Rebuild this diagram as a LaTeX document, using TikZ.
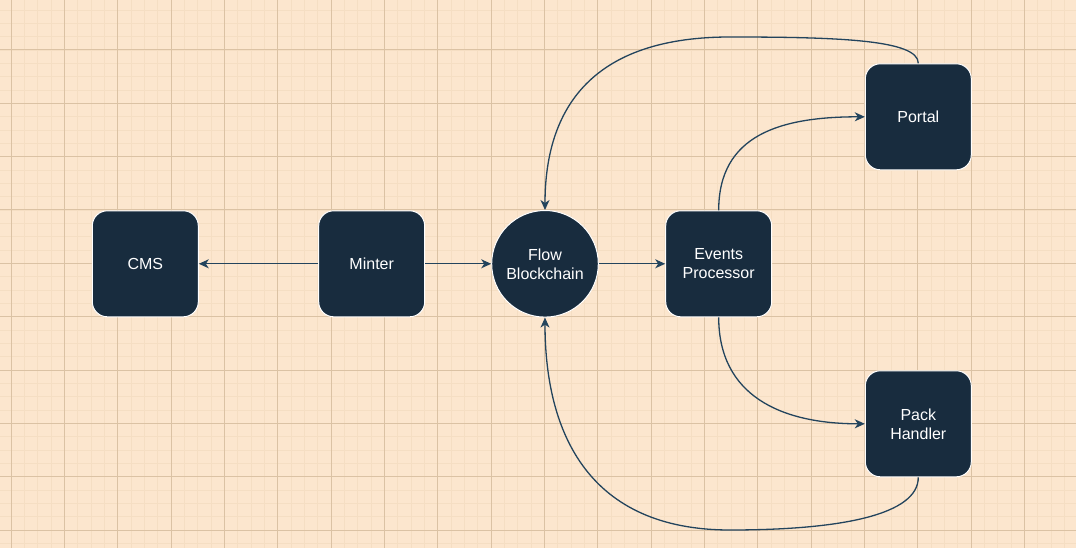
\documentclass[tikz,border=0pt]{standalone}
\usepackage{fontspec}
\setmainfont{Liberation Sans}
\usetikzlibrary{arrows.meta}
\definecolor{bgc}{HTML}{FCE6CE}
\definecolor{minorc}{HTML}{F5DEC3}
\definecolor{majorc}{HTML}{DBC2A4}
\definecolor{nodec}{HTML}{182C3E}
\definecolor{edgec}{HTML}{23445D}
\tikzset{
  boxnode/.style={draw=white, line width=1pt, fill=nodec, rounded corners=15pt,
    minimum width=106pt, minimum height=106pt, text=white, font=\fontsize{16}{19}\selectfont,
    align=center, inner sep=0pt},
  circnode/.style={draw=white, line width=1pt, fill=nodec, circle,
    minimum size=106.6pt, text=white, font=\fontsize{16}{19}\selectfont,
    align=center, inner sep=0pt},
  conn/.style={draw=edgec, line width=1.3pt, -{Stealth[length=10pt,width=9pt,inset=3pt]}},
  minorline/.style={draw=minorc, line width=0.9pt},
  majorline/.style={draw=majorc, line width=1pt}
}
\begin{document}
\begin{tikzpicture}[x=1pt,y=-1pt]
\fill[bgc] (0,0) rectangle (1076,548);
\useasboundingbox (0,0) rectangle (1076,548);
% minor grid
\foreach \i in {0,...,81} {
  \draw[minorline] ({-2.333+\i*13.3333},0) -- ++(0,548);
}
\foreach \i in {0,...,42} {
  \draw[minorline] (0,{-3.333+\i*13.3333}) -- ++(1076,0);
}
% major grid
\foreach \i in {0,...,20} {
  \draw[majorline] ({11+\i*53.3333},0) -- ++(0,548);
}
\foreach \i in {0,...,10} {
  \draw[majorline] (0,{-3.333+\i*53.3333}) -- ++(1076,0);
}
% nodes
\node[boxnode] (cms) at (145.3,263.8) {CMS};
\node[boxnode] (minter) at (371.7,263.8) {Minter};
\node[circnode] (flow) at (545,263.8) {Flow\\Blockchain};
\node[boxnode] (events) at (718.7,263.8) {Events\\Processor};
\node[boxnode] (portal) at (918.3,116.8) {Portal};
\node[boxnode] (pack) at (918.3,423.8) {Pack\\Handler};
% connectors
\draw[conn] (minter.west) -- (cms.east);
\draw[conn] (minter.east) -- (flow.west);
\draw[conn] (flow.east) -- (events.west);
\draw[conn] (events.north) .. controls (718.7,135) and (780,116.8) .. (portal.west);
\draw[conn] (events.south) .. controls (718.7,395) and (780,423.8) .. (pack.west);
\coordinate (topmid) at (730,37);
\coordinate (botmid) at (730,530);
\draw[conn] (portal.north) .. controls (918.3,40) and (840,37) .. (topmid)
  .. controls (600,37) and (545,100) .. (flow.north);
\draw[conn] (pack.south) .. controls (918.3,515) and (840,530) .. (botmid)
  .. controls (590,530) and (545,435) .. (flow.south);
\end{tikzpicture}
\end{document}
